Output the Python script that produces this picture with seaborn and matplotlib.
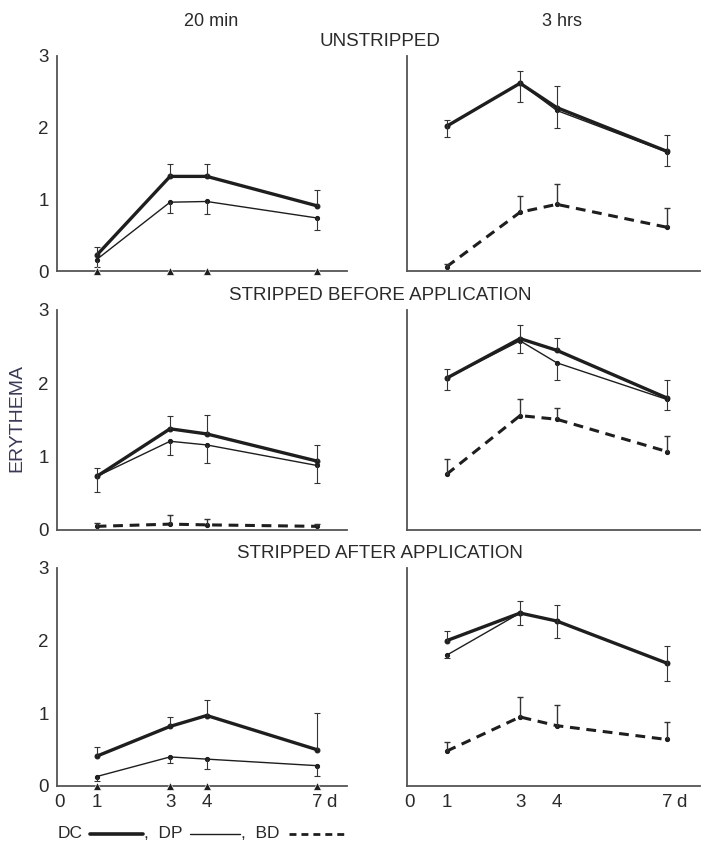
import numpy as np
import pandas as pd
import matplotlib
matplotlib.use("Agg")
import matplotlib.pyplot as plt
from matplotlib.lines import Line2D
import seaborn as sns

sns.set_style("white")
plt.rcParams['font.family'] = ['Liberation Sans', 'DejaVu Sans']

# days after application
days = [1, 3, 4, 7]
xtick_pos = [0, 1, 3, 4, 7]
xtick_labels = ["0", "1", "3", "4", "7"]
col_titles = ["20 min", "3 hrs"]
row_titles = ["UNSTRIPPED", "STRIPPED BEFORE APPLICATION", "STRIPPED AFTER APPLICATION"]

# unstripped, 20 min
dc_unstr_20 = [0.22, 1.32, 1.32, 0.91]
dp_unstr_20 = [0.16, 0.96, 0.97, 0.74]
bd_unstr_20 = [0.0, 0.0, 0.0, 0.0]
dc_hi_unstr_20 = [0.33, 1.50, 1.50, 1.13]
dp_lo_unstr_20 = [0.05, 0.81, 0.80, 0.57]
bd_hi_unstr_20 = [0.0, 0.0, 0.0, 0.0]

# unstripped, 3 hrs
dc_unstr_3h = [2.02, 2.62, 2.28, 1.67]
dp_unstr_3h = [2.02, 2.62, 2.24, 1.66]
bd_unstr_3h = [0.06, 0.82, 0.93, 0.61]
dc_hi_unstr_3h = [2.11, 2.79, 2.58, 1.90]
dp_lo_unstr_3h = [1.87, 2.36, 1.99, 1.46]
bd_hi_unstr_3h = [0.10, 1.05, 1.22, 0.88]

# stripped before, 20 min
dc_before_20 = [0.73, 1.38, 1.31, 0.94]
dp_before_20 = [0.73, 1.21, 1.16, 0.88]
bd_before_20 = [0.05, 0.08, 0.07, 0.05]
dc_hi_before_20 = [0.84, 1.55, 1.57, 1.16]
dp_lo_before_20 = [0.52, 1.02, 0.91, 0.64]
bd_hi_before_20 = [0.10, 0.20, 0.15, 0.08]

# stripped before, 3 hrs
dc_before_3h = [2.07, 2.61, 2.45, 1.80]
dp_before_3h = [2.07, 2.58, 2.28, 1.78]
bd_before_3h = [0.76, 1.56, 1.51, 1.07]
dc_hi_before_3h = [2.20, 2.80, 2.62, 2.04]
dp_lo_before_3h = [1.91, 2.41, 2.04, 1.63]
bd_hi_before_3h = [0.97, 1.79, 1.67, 1.28]

# stripped after, 20 min
dc_after_20 = [0.41, 0.82, 0.97, 0.50]
dp_after_20 = [0.13, 0.40, 0.37, 0.28]
bd_after_20 = [0.0, 0.0, 0.0, 0.0]
dc_hi_after_20 = [0.53, 0.95, 1.19, 1.00]
dp_lo_after_20 = [0.07, 0.31, 0.24, 0.14]
bd_hi_after_20 = [0.0, 0.0, 0.0, 0.0]

# stripped after, 3 hrs
dc_after_3h = [2.00, 2.38, 2.27, 1.69]
dp_after_3h = [1.80, 2.38, 2.27, 1.69]
bd_after_3h = [0.48, 0.95, 0.83, 0.64]
dc_hi_after_3h = [2.13, 2.55, 2.49, 1.92]
dp_lo_after_3h = [1.76, 2.21, 2.04, 1.45]
bd_hi_after_3h = [0.60, 1.22, 1.12, 0.88]

panels = [
    [(dc_unstr_20, dp_unstr_20, bd_unstr_20, dc_hi_unstr_20, dp_lo_unstr_20, bd_hi_unstr_20),
     (dc_unstr_3h, dp_unstr_3h, bd_unstr_3h, dc_hi_unstr_3h, dp_lo_unstr_3h, bd_hi_unstr_3h)],
    [(dc_before_20, dp_before_20, bd_before_20, dc_hi_before_20, dp_lo_before_20, bd_hi_before_20),
     (dc_before_3h, dp_before_3h, bd_before_3h, dc_hi_before_3h, dp_lo_before_3h, bd_hi_before_3h)],
    [(dc_after_20, dp_after_20, bd_after_20, dc_hi_after_20, dp_lo_after_20, bd_hi_after_20),
     (dc_after_3h, dp_after_3h, bd_after_3h, dc_hi_after_3h, dp_lo_after_3h, bd_hi_after_3h)],
]

ink = "#1e1e1e"
axis_col = "#555555"
text_col = "#2a2a2a"

W, H = 701, 843
fig = plt.figure(figsize=(W / 100, H / 100), dpi=100)

# axes boxes in pixels: (left, right) per column, (top, bottom) per row
col_px = [(57, 347), (407, 700)]
col_xlim = [(-0.08, 7.82), (-0.08, 7.9)]
row_px = [(56, 271), (310, 530), (568, 786)]


def errbar(ax, x, y0, y1, lw=0.8):
    for xi, a, b in zip(x, y0, y1):
        if abs(b - a) < 1e-6:
            continue
        ax.vlines(xi, a, b, color="#333333", lw=lw, zorder=3)
        ax.hlines(b, xi - 0.08, xi + 0.08, color="#333333", lw=lw, zorder=3)


for r in range(3):
    for c in range(2):
        l, rr = col_px[c]
        t, b = row_px[r]
        ax = fig.add_axes([l / W, 1 - b / H, (rr - l) / W, (b - t) / H])
        dc, dp, bd, dc_hi, dp_lo, bd_hi = panels[r][c]
        df = pd.DataFrame({"day": days, "DC": dc, "DP": dp, "BD": bd})

        if max(bd) > 0:
            sns.lineplot(data=df, x="day", y="BD", ax=ax, color=ink, lw=2.2,
                         linestyle=(0, (3.2, 2.2)), marker="o", ms=3, mec=ink, zorder=2)
            errbar(ax, days, bd, bd_hi, lw=1.0)
        else:
            sns.scatterplot(data=df, x="day", y="BD", ax=ax, color=ink, marker="^",
                            s=32, zorder=4, clip_on=False, legend=False)
        sns.lineplot(data=df, x="day", y="DP", ax=ax, color=ink, lw=1.0,
                     marker="o", ms=3, mec=ink, zorder=2)
        sns.lineplot(data=df, x="day", y="DC", ax=ax, color=ink, lw=2.4,
                     marker="o", ms=3.5, mec=ink, zorder=2)
        errbar(ax, days, dc, dc_hi)
        errbar(ax, days, dp, dp_lo)

        ax.set_xlim(*col_xlim[c])
        ax.set_ylim(0, 3)
        ax.set_xlabel("")
        ax.set_ylabel("")
        for s in ["top", "right"]:
            ax.spines[s].set_visible(False)
        for s in ["left", "bottom"]:
            ax.spines[s].set_color(axis_col)
            ax.spines[s].set_linewidth(1.3)
        ax.set_yticks([0, 1, 2, 3])
        ax.set_xticks(xtick_pos)
        ax.tick_params(direction="in", length=4, width=1, color=axis_col,
                       labelsize=13.5, labelcolor=text_col, pad=6)
        if c == 0:
            ax.set_yticklabels(["0", "1", "2", "3"])
        else:
            ax.set_yticklabels([])
        if r == 2:
            ax.set_xticklabels(xtick_labels)
            ax.annotate("d", xy=(7.4, 0), xycoords=("data", "axes fraction"),
                        xytext=(0, -6), textcoords="offset points", ha="center",
                        va="top", fontsize=13.5, color=text_col)
        else:
            ax.set_xticklabels([])

# column and row headers
fig.text(211 / W, 1 - 21 / H, col_titles[0], ha="center", va="center", fontsize=13, color=text_col)
fig.text(562 / W, 1 - 21 / H, col_titles[1], ha="center", va="center", fontsize=13, color=text_col)
for y, title in zip([42, 295, 553], row_titles):
    fig.text(380 / W, 1 - y / H, title, ha="center", va="center", fontsize=13.5, color=text_col)

fig.text(17 / W, 1 - 418 / H, "ERYTHEMA", rotation=90, ha="center", va="center",
         fontsize=14, color="#3a3a58")

# key at the bottom
ky = 1 - 834 / H
fig.text(58 / W, ky, "DC", ha="left", va="center", fontsize=12.5, color=text_col)
fig.add_artist(Line2D([90 / W, 143 / W], [ky, ky], color=ink, lw=2.6))
fig.text(144 / W, ky, ",  DP", ha="left", va="center", fontsize=12.5, color=text_col)
fig.add_artist(Line2D([190 / W, 240 / W], [ky, ky], color=ink, lw=1.0))
fig.text(241 / W, ky, ",  BD", ha="left", va="center", fontsize=12.5, color=text_col)
fig.add_artist(Line2D([289 / W, 347 / W], [ky, ky], color=ink, lw=2.0, linestyle=(0, (2.5, 1.8))))

fig.savefig("out.png", dpi=100)
